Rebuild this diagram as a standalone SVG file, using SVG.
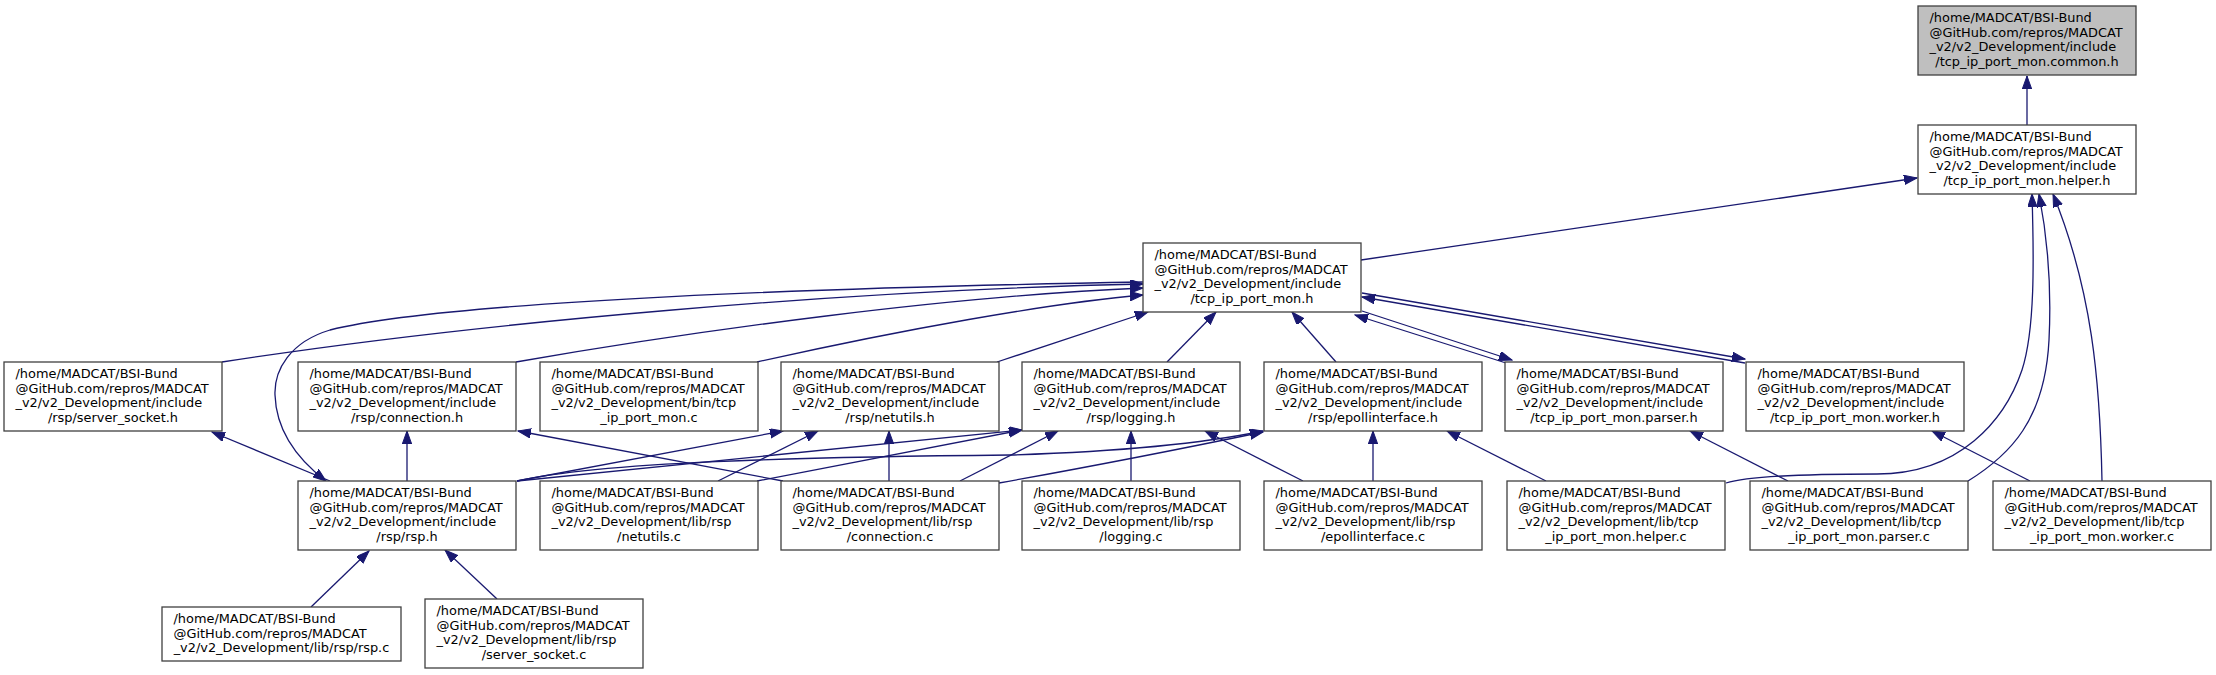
<svg xmlns="http://www.w3.org/2000/svg" width="2216" height="675" viewBox="0 0 2216 675">
<defs>
<style>
.n rect{fill:#ffffff;stroke:#404040;stroke-width:1.3}
.root rect{fill:#bfbfbf}
.n text{font-family:"DejaVu Sans","Liberation Sans",sans-serif;font-size:12.9px;fill:#000}
.n text.c{text-anchor:middle}
.e path{fill:none;stroke:#191970;stroke-width:1.3;marker-end:url(#a)}
</style>
<marker id="a" markerWidth="14" markerHeight="10" refX="13" refY="4.7" orient="auto" markerUnits="userSpaceOnUse">
<path d="M0,0 L13,4.7 L0,9.4 Z" fill="#191970" stroke="#191970" stroke-width="1"/>
</marker>
</defs>
<rect width="2216" height="675" fill="#ffffff"/>

<g id="edges" class="e">
<path d="M2027,125 L2027,76"/>
<path d="M1361,260 L1917,178"/>
<path d="M222,362 C480,322 850,290 1143,284"/>
<path d="M516,362 C700,330 950,296 1143,288"/>
<path d="M757,362 C900,330 1050,303 1143,295"/>
<path d="M997,362 L1148,312"/>
<path d="M1167,362 L1216,312"/>
<path d="M1336,362 L1292,312"/>
<path d="M1506,363 L1355,315"/>
<path d="M1362,311 L1512,360"/>
<path d="M1745,363 L1362,297"/>
<path d="M1362,293 L1745,359"/>
<path d="M1143,282 C850,287 450,300 330,330 C290,342 274,370 275,395 C276,425 292,455 326,481"/>
<path d="M330,481 L212,432"/>
<path d="M407,481 L407,431"/>
<path d="M517,481 L783,431"/>
<path d="M517,481 L1022,430"/>
<path d="M517,481 C600,462 800,457 1010,455 C1110,452 1200,444 1263,431"/>
<path d="M718,481 L818,431"/>
<path d="M757,481 L1022,430"/>
<path d="M783,481 L518,431"/>
<path d="M889,481 L889,431"/>
<path d="M960,481 L1058,431"/>
<path d="M999,483 C1100,465 1200,445 1263,432"/>
<path d="M1131,481 L1131,431"/>
<path d="M1303,481 L1205,431"/>
<path d="M1373,481 L1373,431"/>
<path d="M1546,481 L1447,431"/>
<path d="M1788,481 L1690,431"/>
<path d="M2030,481 L1932,431"/>
<path d="M1726,483 C1745,477 1800,474 1877,474 C1960,474 2005,420 2022,370 C2035,330 2034,260 2032,194"/>
<path d="M1968,481 C2010,455 2045,420 2049,340 C2052,280 2046,230 2039,194"/>
<path d="M2102,481 C2100,380 2092,290 2053,194"/>
<path d="M311,607 L369,551"/>
<path d="M497,599 L445,550"/>
</g>

<g id="n_common" class="n root">
<rect x="1918" y="6" width="218" height="69"/>
<text x="1929.5" y="22">/home/MADCAT/BSI-Bund</text>
<text x="1929.5" y="36.7">@GitHub.com/repros/MADCAT</text>
<text x="1929.5" y="51.4">_v2/v2_Development/include</text>
<text class="c" x="2027" y="66.1">/tcp_ip_port_mon.common.h</text>
</g>

<g id="n_helper_h" class="n">
<rect x="1918" y="125" width="218" height="69"/>
<text x="1929.5" y="141">/home/MADCAT/BSI-Bund</text>
<text x="1929.5" y="155.7">@GitHub.com/repros/MADCAT</text>
<text x="1929.5" y="170.4">_v2/v2_Development/include</text>
<text class="c" x="2027" y="185.1">/tcp_ip_port_mon.helper.h</text>
</g>

<g id="n_tcp_h" class="n">
<rect x="1143" y="243" width="218" height="69"/>
<text x="1154.5" y="259">/home/MADCAT/BSI-Bund</text>
<text x="1154.5" y="273.7">@GitHub.com/repros/MADCAT</text>
<text x="1154.5" y="288.4">_v2/v2_Development/include</text>
<text class="c" x="1252" y="303.1">/tcp_ip_port_mon.h</text>
</g>

<g id="n_server_socket_h" class="n">
<rect x="4" y="362" width="218" height="69"/>
<text x="15.5" y="378">/home/MADCAT/BSI-Bund</text>
<text x="15.5" y="392.7">@GitHub.com/repros/MADCAT</text>
<text x="15.5" y="407.4">_v2/v2_Development/include</text>
<text class="c" x="113" y="422.1">/rsp/server_socket.h</text>
</g>

<g id="n_connection_h" class="n">
<rect x="298" y="362" width="218" height="69"/>
<text x="309.5" y="378">/home/MADCAT/BSI-Bund</text>
<text x="309.5" y="392.7">@GitHub.com/repros/MADCAT</text>
<text x="309.5" y="407.4">_v2/v2_Development/include</text>
<text class="c" x="407" y="422.1">/rsp/connection.h</text>
</g>

<g id="n_bin_c" class="n">
<rect x="540" y="362" width="218" height="69"/>
<text x="551.5" y="378">/home/MADCAT/BSI-Bund</text>
<text x="551.5" y="392.7">@GitHub.com/repros/MADCAT</text>
<text x="551.5" y="407.4">_v2/v2_Development/bin/tcp</text>
<text class="c" x="649" y="422.1">_ip_port_mon.c</text>
</g>

<g id="n_netutils_h" class="n">
<rect x="781" y="362" width="218" height="69"/>
<text x="792.5" y="378">/home/MADCAT/BSI-Bund</text>
<text x="792.5" y="392.7">@GitHub.com/repros/MADCAT</text>
<text x="792.5" y="407.4">_v2/v2_Development/include</text>
<text class="c" x="890" y="422.1">/rsp/netutils.h</text>
</g>

<g id="n_logging_h" class="n">
<rect x="1022" y="362" width="218" height="69"/>
<text x="1033.5" y="378">/home/MADCAT/BSI-Bund</text>
<text x="1033.5" y="392.7">@GitHub.com/repros/MADCAT</text>
<text x="1033.5" y="407.4">_v2/v2_Development/include</text>
<text class="c" x="1131" y="422.1">/rsp/logging.h</text>
</g>

<g id="n_epollinterface_h" class="n">
<rect x="1264" y="362" width="218" height="69"/>
<text x="1275.5" y="378">/home/MADCAT/BSI-Bund</text>
<text x="1275.5" y="392.7">@GitHub.com/repros/MADCAT</text>
<text x="1275.5" y="407.4">_v2/v2_Development/include</text>
<text class="c" x="1373" y="422.1">/rsp/epollinterface.h</text>
</g>

<g id="n_parser_h" class="n">
<rect x="1505" y="362" width="218" height="69"/>
<text x="1516.5" y="378">/home/MADCAT/BSI-Bund</text>
<text x="1516.5" y="392.7">@GitHub.com/repros/MADCAT</text>
<text x="1516.5" y="407.4">_v2/v2_Development/include</text>
<text class="c" x="1614" y="422.1">/tcp_ip_port_mon.parser.h</text>
</g>

<g id="n_worker_h" class="n">
<rect x="1746" y="362" width="218" height="69"/>
<text x="1757.5" y="378">/home/MADCAT/BSI-Bund</text>
<text x="1757.5" y="392.7">@GitHub.com/repros/MADCAT</text>
<text x="1757.5" y="407.4">_v2/v2_Development/include</text>
<text class="c" x="1855" y="422.1">/tcp_ip_port_mon.worker.h</text>
</g>

<g id="n_rsp_h" class="n">
<rect x="298" y="481" width="218" height="69"/>
<text x="309.5" y="497">/home/MADCAT/BSI-Bund</text>
<text x="309.5" y="511.7">@GitHub.com/repros/MADCAT</text>
<text x="309.5" y="526.4">_v2/v2_Development/include</text>
<text class="c" x="407" y="541.1">/rsp/rsp.h</text>
</g>

<g id="n_netutils_c" class="n">
<rect x="540" y="481" width="218" height="69"/>
<text x="551.5" y="497">/home/MADCAT/BSI-Bund</text>
<text x="551.5" y="511.7">@GitHub.com/repros/MADCAT</text>
<text x="551.5" y="526.4">_v2/v2_Development/lib/rsp</text>
<text class="c" x="649" y="541.1">/netutils.c</text>
</g>

<g id="n_connection_c" class="n">
<rect x="781" y="481" width="218" height="69"/>
<text x="792.5" y="497">/home/MADCAT/BSI-Bund</text>
<text x="792.5" y="511.7">@GitHub.com/repros/MADCAT</text>
<text x="792.5" y="526.4">_v2/v2_Development/lib/rsp</text>
<text class="c" x="890" y="541.1">/connection.c</text>
</g>

<g id="n_logging_c" class="n">
<rect x="1022" y="481" width="218" height="69"/>
<text x="1033.5" y="497">/home/MADCAT/BSI-Bund</text>
<text x="1033.5" y="511.7">@GitHub.com/repros/MADCAT</text>
<text x="1033.5" y="526.4">_v2/v2_Development/lib/rsp</text>
<text class="c" x="1131" y="541.1">/logging.c</text>
</g>

<g id="n_epollinterface_c" class="n">
<rect x="1264" y="481" width="218" height="69"/>
<text x="1275.5" y="497">/home/MADCAT/BSI-Bund</text>
<text x="1275.5" y="511.7">@GitHub.com/repros/MADCAT</text>
<text x="1275.5" y="526.4">_v2/v2_Development/lib/rsp</text>
<text class="c" x="1373" y="541.1">/epollinterface.c</text>
</g>

<g id="n_helper_c" class="n">
<rect x="1507" y="481" width="218" height="69"/>
<text x="1518.5" y="497">/home/MADCAT/BSI-Bund</text>
<text x="1518.5" y="511.7">@GitHub.com/repros/MADCAT</text>
<text x="1518.5" y="526.4">_v2/v2_Development/lib/tcp</text>
<text class="c" x="1616" y="541.1">_ip_port_mon.helper.c</text>
</g>

<g id="n_parser_c" class="n">
<rect x="1750" y="481" width="218" height="69"/>
<text x="1761.5" y="497">/home/MADCAT/BSI-Bund</text>
<text x="1761.5" y="511.7">@GitHub.com/repros/MADCAT</text>
<text x="1761.5" y="526.4">_v2/v2_Development/lib/tcp</text>
<text class="c" x="1859" y="541.1">_ip_port_mon.parser.c</text>
</g>

<g id="n_worker_c" class="n">
<rect x="1993" y="481" width="218" height="69"/>
<text x="2004.5" y="497">/home/MADCAT/BSI-Bund</text>
<text x="2004.5" y="511.7">@GitHub.com/repros/MADCAT</text>
<text x="2004.5" y="526.4">_v2/v2_Development/lib/tcp</text>
<text class="c" x="2102" y="541.1">_ip_port_mon.worker.c</text>
</g>

<g id="n_rsp_c" class="n">
<rect x="162" y="607" width="239" height="54"/>
<text x="173.5" y="623">/home/MADCAT/BSI-Bund</text>
<text x="173.5" y="637.7">@GitHub.com/repros/MADCAT</text>
<text class="c" x="281.5" y="652.4">_v2/v2_Development/lib/rsp/rsp.c</text>
</g>

<g id="n_server_socket_c" class="n">
<rect x="425" y="599" width="218" height="69"/>
<text x="436.5" y="615">/home/MADCAT/BSI-Bund</text>
<text x="436.5" y="629.7">@GitHub.com/repros/MADCAT</text>
<text x="436.5" y="644.4">_v2/v2_Development/lib/rsp</text>
<text class="c" x="534" y="659.1">/server_socket.c</text>
</g>
</svg>
